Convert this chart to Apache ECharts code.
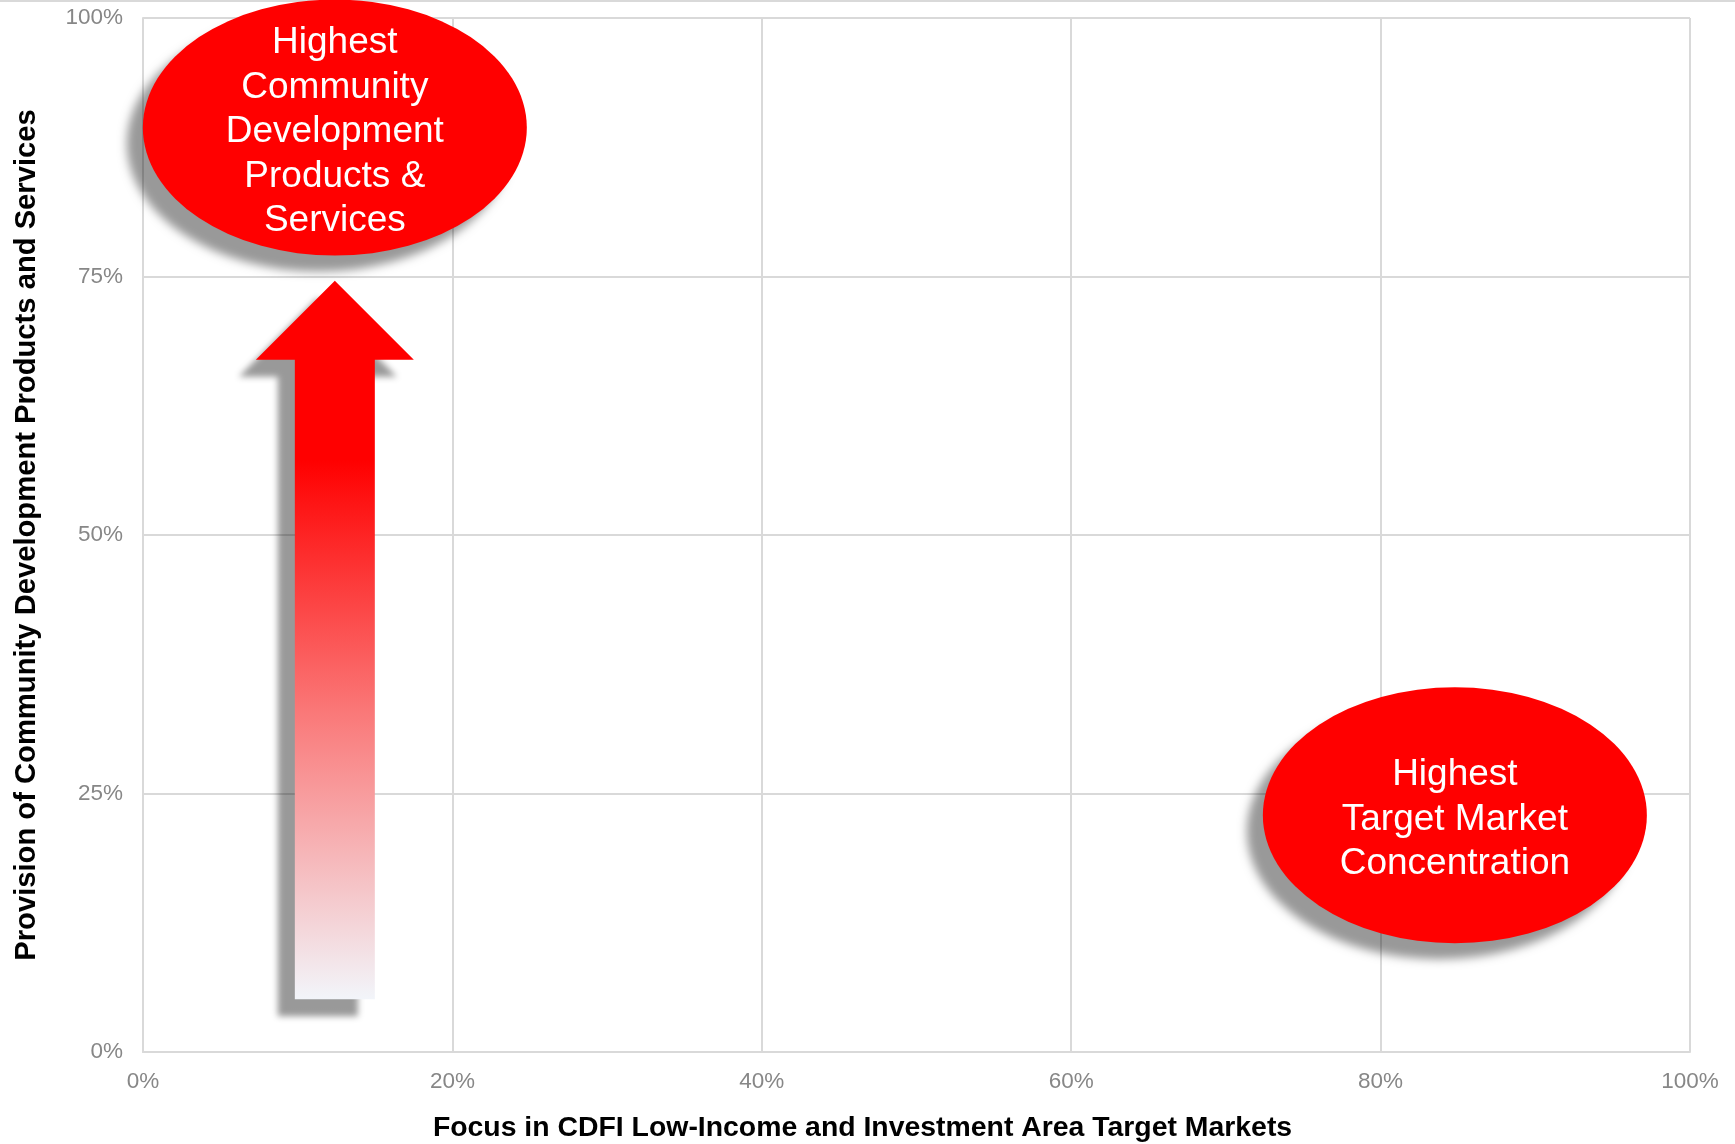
<!DOCTYPE html>
<html>
<head>
<meta charset="utf-8">
<script src="https://cdn.jsdelivr.net/npm/echarts@6/dist/echarts.min.js"></script>
<style>
  html, body { margin: 0; padding: 0; background: #ffffff; }
  #chart { width: 1735px; height: 1144px; }
</style>
</head>
<body>
<div id="chart"></div>
<script>
// Axis ticks (percent)
const xTickStep = 20;
const yTickStep = 25;

// Bubble callouts: label text and their position on the two axes (percent)
const bubbleLabels = [
  'Highest\nCommunity\nDevelopment\nProducts &\nServices',
  'Highest\nTarget Market\nConcentration'
];
const bubbleX = [12.4, 84.8];
const bubbleY = [89.4, 22.9];

// Upward arrow: x position, start and end on the y axis (percent)
const arrowX = [12.4];
const arrowFromY = [5.1];
const arrowToY = [74.6];

const xTitle = 'Focus in CDFI Low-Income and Investment Area Target Markets';
const yTitle = 'Provision of Community Development Products and Services';

const FONT = '"Liberation Sans", Arial, sans-serif';
const GRID_COLOR = '#d9d9d9';
const TICK_COLOR = '#878787';

const chart = echarts.init(document.getElementById('chart'), null, { renderer: 'canvas' });

const bubbleData = bubbleX.map((x, i) => ({ name: bubbleLabels[i], value: [x, bubbleY[i]] }));
const arrowData = arrowX.map((x, i) => [x, arrowFromY[i], arrowToY[i]]);

function renderArrow(params, api) {
  const base = api.coord([api.value(0), api.value(1)]);
  const tip = api.coord([api.value(0), api.value(2)]);
  const cx = base[0];
  const shaftHalf = 40;
  const headHalf = 79;
  const headLen = 79;
  const headY = tip[1] + headLen;
  return {
    type: 'polygon',
    shape: {
      points: [
        [cx - shaftHalf, base[1]],
        [cx - shaftHalf, headY],
        [cx - headHalf, headY],
        [cx, tip[1]],
        [cx + headHalf, headY],
        [cx + shaftHalf, headY],
        [cx + shaftHalf, base[1]]
      ]
    },
    style: {
      fill: new echarts.graphic.LinearGradient(0, 0, 0, 1, [
        { offset: 0, color: '#ff0000' },
        { offset: 0.25, color: '#ff0000' },
        { offset: 0.6, color: '#fa7878' },
        { offset: 1, color: '#f2f5fa' }
      ]),
      shadowBlur: 6,
      shadowOffsetX: -17,
      shadowOffsetY: 17,
      shadowColor: 'rgba(0,0,0,0.4)'
    }
  };
}

const option = {
  animation: false,
  backgroundColor: '#ffffff',
  textStyle: { fontFamily: FONT },
  graphic: [
    {
      type: 'rect',
      z: -10,
      shape: { x: 0, y: 0, width: 1735, height: 2 },
      style: { fill: GRID_COLOR }
    }
  ],
  grid: {
    left: 143, right: 45, top: 18, bottom: 92,
    containLabel: false,
    outerBoundsMode: 'none'
  },
  xAxis: {
    type: 'value',
    min: 0,
    max: 100,
    interval: xTickStep,
    name: xTitle,
    nameLocation: 'middle',
    nameGap: 62,
    nameTextStyle: {
      fontFamily: FONT, fontSize: 28.4, fontWeight: 'bold', color: '#000000',
      padding: [0, 108, 0, 0]
    },
    axisLine: { show: true, lineStyle: { color: GRID_COLOR, width: 2 } },
    axisTick: { show: false },
    axisLabel: {
      formatter: '{value}%', color: TICK_COLOR, fontSize: 22.5, fontFamily: FONT, margin: 18
    },
    splitLine: { show: true, lineStyle: { color: GRID_COLOR, width: 2 } }
  },
  yAxis: {
    type: 'value',
    min: 0,
    max: 100,
    interval: yTickStep,
    name: yTitle,
    nameLocation: 'middle',
    nameGap: 102,
    nameTextStyle: {
      fontFamily: FONT, fontSize: 29.2, fontWeight: 'bold', color: '#000000'
    },
    axisLine: { show: true, lineStyle: { color: GRID_COLOR, width: 2 } },
    axisTick: { show: false },
    axisLabel: {
      formatter: '{value}%', color: TICK_COLOR, fontSize: 22.5, fontFamily: FONT, margin: 20
    },
    splitLine: { show: true, lineStyle: { color: GRID_COLOR, width: 2 } }
  },
  series: [
    {
      type: 'custom',
      name: 'arrow',
      clip: false,
      z: 3,
      renderItem: renderArrow,
      data: arrowData
    },
    {
      type: 'scatter',
      name: 'callouts',
      clip: false,
      z: 4,
      symbol: 'circle',
      symbolSize: [384, 256],
      itemStyle: {
        color: '#ff0000',
        opacity: 1,
        shadowBlur: 10,
        shadowOffsetX: -16,
        shadowOffsetY: 16,
        shadowColor: 'rgba(0,0,0,0.4)'
      },
      label: {
        show: true,
        position: 'inside',
        offset: [0, 4.5],
        formatter: '{b}',
        color: '#ffffff',
        fontFamily: FONT,
        fontSize: 37,
        lineHeight: 44.5,
        align: 'center'
      },
      emphasis: { disabled: true },
      data: bubbleData
    }
  ]
};

chart.setOption(option);
</script>
</body>
</html>
